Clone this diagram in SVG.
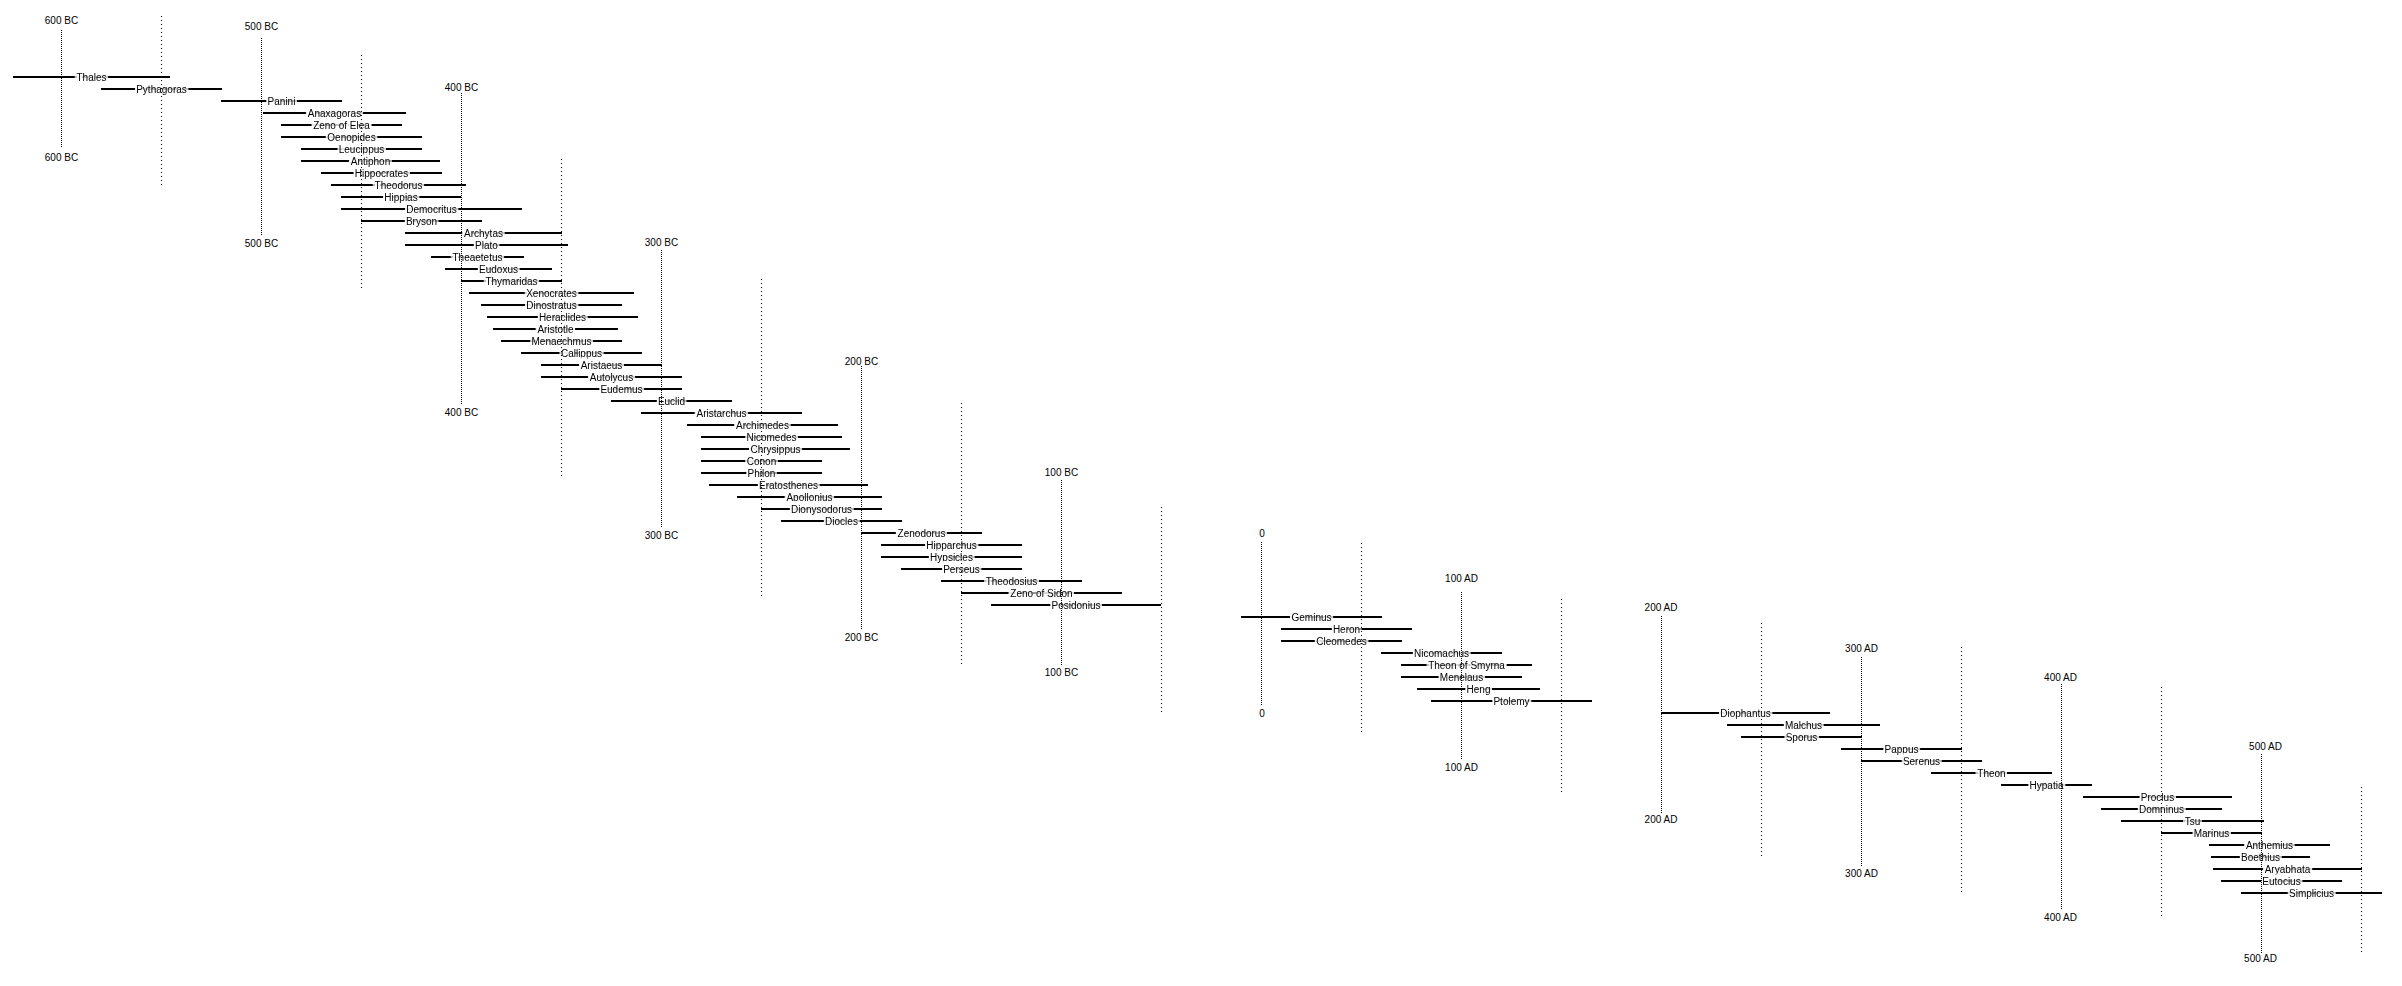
<svg xmlns="http://www.w3.org/2000/svg" width="2402" height="986" viewBox="0 0 2402 986">
<style>
.bar{stroke:#000;stroke-width:2;fill:none}
.nm{font-family:"Liberation Sans",Arial,sans-serif;font-size:10px;text-anchor:middle;fill:#000;filter:url(#knock)}
.lb{font-family:"Liberation Sans",Arial,sans-serif;font-size:10px;text-anchor:middle;fill:#000}
.cent{stroke:#000;stroke-width:1;stroke-dasharray:1 1;fill:none}
.half{stroke:#000;stroke-width:1;stroke-dasharray:1 3;fill:none}
</style>
<defs>
<filter id="knock" x="-25%" y="-60%" width="150%" height="220%" color-interpolation-filters="sRGB">
<feMorphology in="SourceAlpha" operator="dilate" radius="2 4" result="d"/>
<feFlood flood-color="#fff"/>
<feComposite in2="d" operator="in" result="h"/>
<feMerge><feMergeNode in="h"/><feMergeNode in="SourceGraphic"/></feMerge>
</filter>
</defs>
<rect width="2402" height="986" fill="#fff"/>
<g id="people">
<g id="p-thales"><line class="bar" x1="13" y1="77" x2="170" y2="77"/><text class="nm" x="91.5" y="80.5">Thales</text></g>
<g id="p-pythagoras"><line class="bar" x1="101" y1="89" x2="222" y2="89"/><text class="nm" x="161.5" y="92.5">Pythagoras</text></g>
<g id="p-panini"><line class="bar" x1="221" y1="101" x2="342" y2="101"/><text class="nm" x="281.5" y="104.5">Panini</text></g>
<g id="p-anaxagoras"><line class="bar" x1="263" y1="113" x2="406" y2="113"/><text class="nm" x="334.5" y="116.5">Anaxagoras</text></g>
<g id="p-zeno-elea"><line class="bar" x1="281" y1="125" x2="402" y2="125"/><text class="nm" x="341.5" y="128.5">Zeno of Elea</text></g>
<g id="p-oenopides"><line class="bar" x1="281" y1="137" x2="422" y2="137"/><text class="nm" x="351.5" y="140.5">Oenopides</text></g>
<g id="p-leucippus"><line class="bar" x1="301" y1="149" x2="422" y2="149"/><text class="nm" x="361.5" y="152.5">Leucippus</text></g>
<g id="p-antiphon"><line class="bar" x1="301" y1="161" x2="440" y2="161"/><text class="nm" x="370.5" y="164.5">Antiphon</text></g>
<g id="p-hippocrates"><line class="bar" x1="321" y1="173" x2="442" y2="173"/><text class="nm" x="381.5" y="176.5">Hippocrates</text></g>
<g id="p-theodorus"><line class="bar" x1="331" y1="185" x2="466" y2="185"/><text class="nm" x="398.5" y="188.5">Theodorus</text></g>
<g id="p-hippias"><line class="bar" x1="341" y1="197" x2="461" y2="197"/><text class="nm" x="401" y="200.5">Hippias</text></g>
<g id="p-democritus"><line class="bar" x1="341" y1="209" x2="522" y2="209"/><text class="nm" x="431.5" y="212.5">Democritus</text></g>
<g id="p-bryson"><line class="bar" x1="361" y1="221" x2="482" y2="221"/><text class="nm" x="421.5" y="224.5">Bryson</text></g>
<g id="p-archytas"><line class="bar" x1="405" y1="233" x2="562" y2="233"/><text class="nm" x="483.5" y="236.5">Archytas</text></g>
<g id="p-plato"><line class="bar" x1="405" y1="245" x2="568" y2="245"/><text class="nm" x="486.5" y="248.5">Plato</text></g>
<g id="p-theaetetus"><line class="bar" x1="431" y1="257" x2="524" y2="257"/><text class="nm" x="477.5" y="260.5">Theaetetus</text></g>
<g id="p-eudoxus"><line class="bar" x1="445" y1="269" x2="552" y2="269"/><text class="nm" x="498.5" y="272.5">Eudoxus</text></g>
<g id="p-thymaridas"><line class="bar" x1="461" y1="281" x2="562" y2="281"/><text class="nm" x="511.5" y="284.5">Thymaridas</text></g>
<g id="p-xenocrates"><line class="bar" x1="469" y1="293" x2="634" y2="293"/><text class="nm" x="551.5" y="296.5">Xenocrates</text></g>
<g id="p-dinostratus"><line class="bar" x1="481" y1="305" x2="622" y2="305"/><text class="nm" x="551.5" y="308.5">Dinostratus</text></g>
<g id="p-heraclides"><line class="bar" x1="487" y1="317" x2="638" y2="317"/><text class="nm" x="562.5" y="320.5">Heraclides</text></g>
<g id="p-aristotle"><line class="bar" x1="493" y1="329" x2="618" y2="329"/><text class="nm" x="555.5" y="332.5">Aristotle</text></g>
<g id="p-menaechmus"><line class="bar" x1="501" y1="341" x2="622" y2="341"/><text class="nm" x="561.5" y="344.5">Menaechmus</text></g>
<g id="p-callippus"><line class="bar" x1="521" y1="353" x2="642" y2="353"/><text class="nm" x="581.5" y="356.5">Callippus</text></g>
<g id="p-aristaeus"><line class="bar" x1="541" y1="365" x2="662" y2="365"/><text class="nm" x="601.5" y="368.5">Aristaeus</text></g>
<g id="p-autolycus"><line class="bar" x1="541" y1="377" x2="682" y2="377"/><text class="nm" x="611.5" y="380.5">Autolycus</text></g>
<g id="p-eudemus"><line class="bar" x1="561" y1="389" x2="682" y2="389"/><text class="nm" x="621.5" y="392.5">Eudemus</text></g>
<g id="p-euclid"><line class="bar" x1="611" y1="401" x2="732" y2="401"/><text class="nm" x="671.5" y="404.5">Euclid</text></g>
<g id="p-aristarchus"><line class="bar" x1="641" y1="413" x2="802" y2="413"/><text class="nm" x="721.5" y="416.5">Aristarchus</text></g>
<g id="p-archimedes"><line class="bar" x1="687" y1="425" x2="838" y2="425"/><text class="nm" x="762.5" y="428.5">Archimedes</text></g>
<g id="p-nicomedes"><line class="bar" x1="701" y1="437" x2="842" y2="437"/><text class="nm" x="771.5" y="440.5">Nicomedes</text></g>
<g id="p-chrysippus"><line class="bar" x1="701" y1="449" x2="850" y2="449"/><text class="nm" x="775.5" y="452.5">Chrysippus</text></g>
<g id="p-conon"><line class="bar" x1="701" y1="461" x2="822" y2="461"/><text class="nm" x="761.5" y="464.5">Conon</text></g>
<g id="p-philon"><line class="bar" x1="701" y1="473" x2="822" y2="473"/><text class="nm" x="761.5" y="476.5">Philon</text></g>
<g id="p-eratosthenes"><line class="bar" x1="709" y1="485" x2="868" y2="485"/><text class="nm" x="788.5" y="488.5">Eratosthenes</text></g>
<g id="p-apollonius"><line class="bar" x1="737" y1="497" x2="882" y2="497"/><text class="nm" x="809.5" y="500.5">Apollonius</text></g>
<g id="p-dionysodorus"><line class="bar" x1="761" y1="509" x2="882" y2="509"/><text class="nm" x="821.5" y="512.5">Dionysodorus</text></g>
<g id="p-diocles"><line class="bar" x1="781" y1="521" x2="902" y2="521"/><text class="nm" x="841.5" y="524.5">Diocles</text></g>
<g id="p-zenodorus"><line class="bar" x1="861" y1="533" x2="982" y2="533"/><text class="nm" x="921.5" y="536.5">Zenodorus</text></g>
<g id="p-hipparchus"><line class="bar" x1="881" y1="545" x2="1022" y2="545"/><text class="nm" x="951.5" y="548.5">Hipparchus</text></g>
<g id="p-hypsicles"><line class="bar" x1="881" y1="557" x2="1022" y2="557"/><text class="nm" x="951.5" y="560.5">Hypsicles</text></g>
<g id="p-perseus"><line class="bar" x1="901" y1="569" x2="1022" y2="569"/><text class="nm" x="961.5" y="572.5">Perseus</text></g>
<g id="p-theodosius"><line class="bar" x1="941" y1="581" x2="1082" y2="581"/><text class="nm" x="1011.5" y="584.5">Theodosius</text></g>
<g id="p-zeno-sidon"><line class="bar" x1="961" y1="593" x2="1122" y2="593"/><text class="nm" x="1041.5" y="596.5">Zeno of Sidon</text></g>
<g id="p-posidonius"><line class="bar" x1="991" y1="605" x2="1161" y2="605"/><text class="nm" x="1076" y="608.5">Posidonius</text></g>
<g id="p-geminus"><line class="bar" x1="1241" y1="617" x2="1382" y2="617"/><text class="nm" x="1311.5" y="620.5">Geminus</text></g>
<g id="p-heron"><line class="bar" x1="1281" y1="629" x2="1412" y2="629"/><text class="nm" x="1346.5" y="632.5">Heron</text></g>
<g id="p-cleomedes"><line class="bar" x1="1281" y1="641" x2="1402" y2="641"/><text class="nm" x="1341.5" y="644.5">Cleomedes</text></g>
<g id="p-nicomachus"><line class="bar" x1="1381" y1="653" x2="1502" y2="653"/><text class="nm" x="1441.5" y="656.5">Nicomachus</text></g>
<g id="p-theon-smyrna"><line class="bar" x1="1401" y1="665" x2="1532" y2="665"/><text class="nm" x="1466.5" y="668.5">Theon of Smyrna</text></g>
<g id="p-menelaus"><line class="bar" x1="1401" y1="677" x2="1522" y2="677"/><text class="nm" x="1461.5" y="680.5">Menelaus</text></g>
<g id="p-heng"><line class="bar" x1="1417" y1="689" x2="1540" y2="689"/><text class="nm" x="1478.5" y="692.5">Heng</text></g>
<g id="p-ptolemy"><line class="bar" x1="1431" y1="701" x2="1592" y2="701"/><text class="nm" x="1511.5" y="704.5">Ptolemy</text></g>
<g id="p-diophantus"><line class="bar" x1="1661" y1="713" x2="1830" y2="713"/><text class="nm" x="1745.5" y="716.5">Diophantus</text></g>
<g id="p-malchus"><line class="bar" x1="1727" y1="725" x2="1880" y2="725"/><text class="nm" x="1803.5" y="728.5">Malchus</text></g>
<g id="p-sporus"><line class="bar" x1="1741" y1="737" x2="1862" y2="737"/><text class="nm" x="1801.5" y="740.5">Sporus</text></g>
<g id="p-pappus"><line class="bar" x1="1841" y1="749" x2="1962" y2="749"/><text class="nm" x="1901.5" y="752.5">Pappus</text></g>
<g id="p-serenus"><line class="bar" x1="1861" y1="761" x2="1982" y2="761"/><text class="nm" x="1921.5" y="764.5">Serenus</text></g>
<g id="p-theon"><line class="bar" x1="1931" y1="773" x2="2052" y2="773"/><text class="nm" x="1991.5" y="776.5">Theon</text></g>
<g id="p-hypatia"><line class="bar" x1="2001" y1="785" x2="2092" y2="785"/><text class="nm" x="2046.5" y="788.5">Hypatia</text></g>
<g id="p-proclus"><line class="bar" x1="2083" y1="797" x2="2232" y2="797"/><text class="nm" x="2157.5" y="800.5">Proclus</text></g>
<g id="p-domninus"><line class="bar" x1="2101" y1="809" x2="2222" y2="809"/><text class="nm" x="2161.5" y="812.5">Domninus</text></g>
<g id="p-tsu"><line class="bar" x1="2121" y1="821" x2="2264" y2="821"/><text class="nm" x="2192.5" y="824.5">Tsu</text></g>
<g id="p-marinus"><line class="bar" x1="2161" y1="833" x2="2262" y2="833"/><text class="nm" x="2211.5" y="836.5">Marinus</text></g>
<g id="p-anthemius"><line class="bar" x1="2209" y1="845" x2="2330" y2="845"/><text class="nm" x="2269.5" y="848.5">Anthemius</text></g>
<g id="p-boethius"><line class="bar" x1="2211" y1="857" x2="2310" y2="857"/><text class="nm" x="2260.5" y="860.5">Boethius</text></g>
<g id="p-aryabhata"><line class="bar" x1="2213" y1="869" x2="2362" y2="869"/><text class="nm" x="2287.5" y="872.5">Aryabhata</text></g>
<g id="p-eutocius"><line class="bar" x1="2221" y1="881" x2="2342" y2="881"/><text class="nm" x="2281.5" y="884.5">Eutocius</text></g>
<g id="p-simplicius"><line class="bar" x1="2241" y1="893" x2="2382" y2="893"/><text class="nm" x="2311.5" y="896.5">Simplicius</text></g>
</g>
<g id="time-axis">
<g id="c-600bc"><line class="cent" x1="61.5" y1="30" x2="61.5" y2="148"/><text class="lb" x="61.5" y="24">600 BC</text><text class="lb" x="61.5" y="160.7">600 BC</text></g>
<g id="c-500bc"><line class="cent" x1="261.5" y1="38" x2="261.5" y2="235"/><text class="lb" x="261.5" y="29.7">500 BC</text><text class="lb" x="261.5" y="247">500 BC</text></g>
<g id="c-400bc"><line class="cent" x1="461.5" y1="93" x2="461.5" y2="404"/><text class="lb" x="461.5" y="91">400 BC</text><text class="lb" x="461.5" y="416">400 BC</text></g>
<g id="c-300bc"><line class="cent" x1="661.5" y1="250" x2="661.5" y2="528"/><text class="lb" x="661.5" y="245.7">300 BC</text><text class="lb" x="661.5" y="539.3">300 BC</text></g>
<g id="c-200bc"><line class="cent" x1="861.5" y1="366" x2="861.5" y2="630"/><text class="lb" x="861.5" y="365">200 BC</text><text class="lb" x="861.5" y="640.7">200 BC</text></g>
<g id="c-100bc"><line class="cent" x1="1061.5" y1="480" x2="1061.5" y2="665"/><text class="lb" x="1061.5" y="475.7">100 BC</text><text class="lb" x="1061.5" y="675.7">100 BC</text></g>
<g id="c-0"><line class="cent" x1="1261.5" y1="542" x2="1261.5" y2="706"/><text class="lb" x="1262" y="536.7">0</text><text class="lb" x="1262" y="716.7">0</text></g>
<g id="c-100ad"><line class="cent" x1="1461.5" y1="592" x2="1461.5" y2="760"/><text class="lb" x="1461.5" y="581.7">100 AD</text><text class="lb" x="1461.5" y="770.7">100 AD</text></g>
<g id="c-200ad"><line class="cent" x1="1661.5" y1="616" x2="1661.5" y2="813"/><text class="lb" x="1661" y="611">200 AD</text><text class="lb" x="1661" y="823.3">200 AD</text></g>
<g id="c-300ad"><line class="cent" x1="1861.5" y1="657" x2="1861.5" y2="867"/><text class="lb" x="1861.5" y="652">300 AD</text><text class="lb" x="1861.5" y="877.3">300 AD</text></g>
<g id="c-400ad"><line class="cent" x1="2061.5" y1="684" x2="2061.5" y2="910"/><text class="lb" x="2060.5" y="680.7">400 AD</text><text class="lb" x="2060.5" y="920.7">400 AD</text></g>
<g id="c-500ad"><line class="cent" x1="2261.5" y1="754" x2="2261.5" y2="953"/><text class="lb" x="2265.5" y="750">500 AD</text><text class="lb" x="2260.5" y="961.7">500 AD</text></g>
<line class="half" x1="161.5" y1="16" x2="161.5" y2="188"/>
<line class="half" x1="361.5" y1="55" x2="361.5" y2="288"/>
<line class="half" x1="561.5" y1="159" x2="561.5" y2="479"/>
<line class="half" x1="761.5" y1="279" x2="761.5" y2="596"/>
<line class="half" x1="961.5" y1="403" x2="961.5" y2="664"/>
<line class="half" x1="1161.5" y1="507" x2="1161.5" y2="712"/>
<line class="half" x1="1361.5" y1="543" x2="1361.5" y2="732"/>
<line class="half" x1="1561.5" y1="599" x2="1561.5" y2="792"/>
<line class="half" x1="1761.5" y1="623" x2="1761.5" y2="856"/>
<line class="half" x1="1961.5" y1="647" x2="1961.5" y2="895"/>
<line class="half" x1="2161.5" y1="687" x2="2161.5" y2="919"/>
<line class="half" x1="2361.5" y1="787" x2="2361.5" y2="955"/>
</g>
</svg>
